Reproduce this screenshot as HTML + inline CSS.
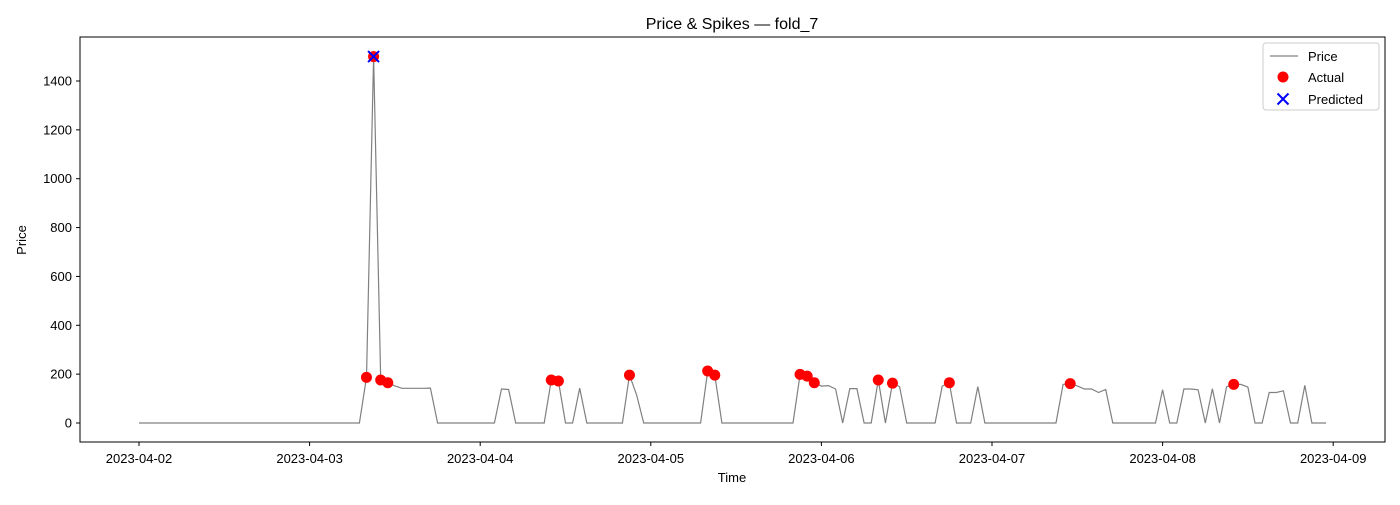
<!DOCTYPE html>
<html><head><meta charset="utf-8"><style>
body{margin:0;background:#fff;font-family:"Liberation Sans","DejaVu Sans",sans-serif;}
</style></head><body>
<svg id="chart" width="1400" height="500" xmlns="http://www.w3.org/2000/svg" font-family="Liberation Sans, DejaVu Sans, sans-serif">
<text x="732" y="29" text-anchor="middle" font-size="16">Price &amp; Spikes — fold_7</text>
<text x="732" y="482" text-anchor="middle" font-size="13">Time</text>
<text x="26" y="240" text-anchor="middle" font-size="13" transform="rotate(-90 26 240)">Price</text>
<g id="ticks"></g>
<g id="marks"></g>
<rect x="80" y="37" width="1305" height="405" fill="none" stroke="#000" stroke-width="1"/>
<g>
<rect x="1263" y="43" width="116" height="67" fill="#fff" stroke="#ccc" rx="3"/>
<line x1="1270" y1="56" x2="1298" y2="56" stroke="#808080" stroke-width="1.2"/>
<text x="1308" y="61" font-size="13">Price</text>
<circle cx="1283" cy="77" r="5.5" fill="red"/>
<text x="1308" y="82" font-size="13">Actual</text>
<path d="M1277.5 93.5L1288.5 104.5M1288.5 93.5L1277.5 104.5" stroke="blue" stroke-width="2"/>
<text x="1308" y="104" font-size="13">Predicted</text>
</g>
</svg>
<script>
const priceHours=[0,31,32,33,34,35,36,37,38,39,40,41,42,50,51,52,53,57,58,59,60,61,62,63,68,69,70,71,79,80,81,82,92,93,94,95,96,97,98,99,100,101,102,103,104,105,106,107,108,112,113,114,115,117,118,119,129,130,131,132,133,134,135,136,137,143,144,145,146,147,148,149,150,151,152,153,154,155,156,157,158,159,160,161,162,163,164,165,167];
const priceValues=[0,0,187,1500,176,165,152,142,142,142,142,143,0,0,139,137,0,0,176,172,0,0,143,0,0,196,115,0,0,213,196,0,0,199,192,165,151,153,139,0,141,141,0,0,176,0,163,149,0,0,151,165,0,0,149,0,0,158,161,152,139,139,125,137,0,0,136,0,0,139,139,136,0,140,0,148,158,158,147,0,0,125,125,132,0,0,154,0,0];
const actualHours=[32,33,34,35,58,59,69,80,81,93,94,95,104,106,114,131,154];
const predictedHours=[33];
const yTicks=[0,200,400,600,800,1000,1200,1400];
const xTickLabels=["2023-04-02","2023-04-03","2023-04-04","2023-04-05","2023-04-06","2023-04-07","2023-04-08","2023-04-09"];
const NS="http://www.w3.org/2000/svg";
const xS=h=>139+h*170.6/24;
const yS=v=>423-v*0.24429;
const valAt=h=>priceValues[priceHours.indexOf(h)];
const ticks=document.getElementById('ticks'),marks=document.getElementById('marks');
function mk(tag,attrs,parent){const e=document.createElementNS(NS,tag);for(const k in attrs)e.setAttribute(k,attrs[k]);parent.appendChild(e);return e;}
yTicks.forEach(v=>{const y=yS(v);
 const l=mk('line',{x1:76,x2:80,y1:y,y2:y,stroke:'#000'},ticks);
 
 
 const t=mk('text',{x:72,y:y+4.5,'text-anchor':'end','font-size':13},ticks);t.textContent=v;
 
 });
xTickLabels.forEach((s,i)=>{const x=xS(i*24);
 const l=mk('line',{x1:x,x2:x,y1:442,y2:446,stroke:'#000'},ticks);
 
 
 const t=mk('text',{x:x,y:463,'text-anchor':'middle','font-size':13},ticks);t.textContent=s;
 
 });
// fill hourly series (missing hours = 0)
let pts=[];const last=priceHours[priceHours.length-1];
for(let h=0;h<=last;h++){const i=priceHours.indexOf(h);const v=i>=0?priceValues[i]:0;pts.push(xS(h).toFixed(1)+','+yS(v).toFixed(1));}
const pl=mk('polyline',{points:pts.join(' '),fill:'none',stroke:'#808080','stroke-width':1.2},marks);


actualHours.forEach(h=>{const c=mk('circle',{cx:xS(h),cy:yS(valAt(h)),r:5.5,fill:'red'},marks);
 
 });
predictedHours.forEach(h=>{const x=xS(h),y=yS(valAt(h));
 const p=mk('path',{d:`M${x-5.5} ${y-5.5}L${x+5.5} ${y+5.5}M${x+5.5} ${y-5.5}L${x-5.5} ${y+5.5}`,stroke:'blue','stroke-width':2},marks);
 
 });
</script>
</body></html>
